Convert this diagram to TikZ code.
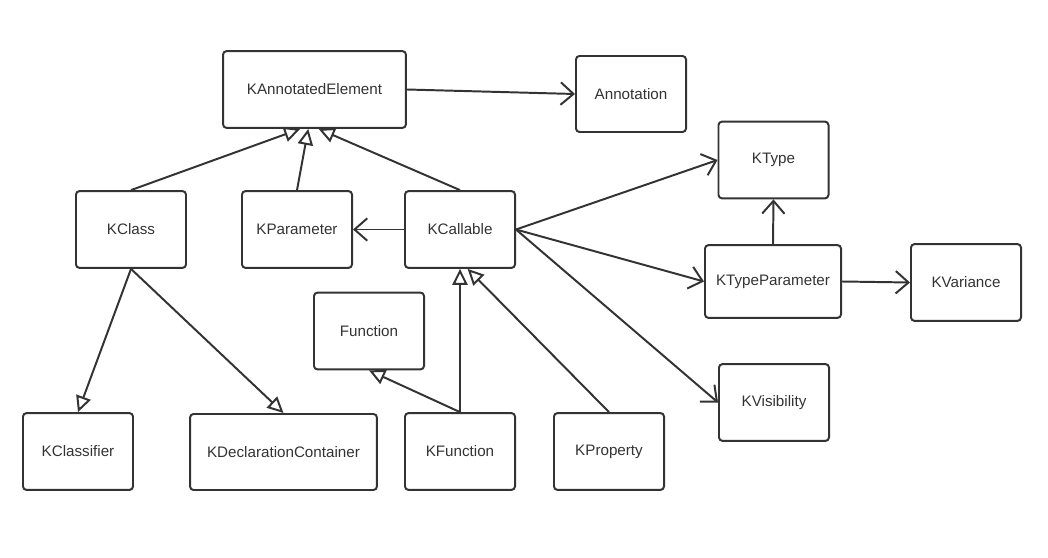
\documentclass[tikz,border=0pt]{standalone}
\usepackage{fontspec}
\setmainfont{Liberation Sans}
\usepackage{tikz}
\usetikzlibrary{arrows.meta}

\definecolor{ink}{HTML}{333333}

\tikzset{
  cls/.style={draw=ink, line width=1.4pt, rounded corners=2.5pt, text=ink,
    font=\fontsize{10.8}{13}\selectfont, minimum width=2.75cm, minimum height=1.92cm},
  assoc/.style={draw=ink, line width=1.4pt, -{Straight Barb[length=3.2mm, width=5.6mm, line width=1.4pt]}},
  inherit/.style={draw=ink, line width=1.4pt, -{Triangle[open, length=4mm, width=3.8mm, line width=1.4pt, fill=white]}}
}

\begin{document}
\begin{tikzpicture}[x=0.025cm, y=-0.025cm]
    \useasboundingbox (0,0) rectangle (1048,558);

    % Classes
    \node[cls, minimum width=4.57cm] (ae) at (314.5,89.5) {KAnnotatedElement};
    \node[cls, minimum height=1.9cm] (an) at (631,94) {Annotation};
    \node[cls] (kt) at (773.5,160) {KType};
    \node[cls] (kcl) at (131,229.5) {KClass};
    \node[cls] (kpa) at (297,229.5) {KParameter};
    \node[cls] (kc) at (460,229.5) {KCallable};
    \node[cls, minimum width=3.4cm, minimum height=1.82cm] (ktp) at (773,281.5) {KTypeParameter};
    \node[cls] (kva) at (966,282.5) {KVariance};
    \node[cls] (fn) at (369,331) {Function};
    \node[cls] (kvi) at (774,402.5) {KVisibility};
    \node[cls] (kcf) at (78,451.5) {KClassifier};
    \node[cls, minimum width=4.67cm, minimum height=1.9cm] (kdc) at (283.5,452) {KDeclarationContainer};
    \node[cls] (kf) at (460,451.5) {KFunction};
    \node[cls] (kp) at (609,451.5) {KProperty};

    % Inheritance
    \draw[inherit] (kcl.north) -- (ae.-110.6);
    \draw[inherit] (kpa.north) -- (ae.-99.6);
    \draw[inherit] (kc.north) -- (ae.-84.8);
    \draw[inherit] (kcl.south) -- (kcf.north);
    \draw[inherit] (kcl.south) -- (kdc.north);
    \draw[inherit] (kf.north) -- (kc.south);
    \draw[inherit] (kf.north) -- (fn.south);
    \draw[inherit] (kp.north) -- (kc.-79.7);

    % Associations
    \draw[assoc] (ae.east) -- (an.west);
    \draw[assoc] (kc.west) -- (kpa.east);
    \draw[assoc] (kc.east) -- (kt.west);
    \draw[assoc] (kc.east) -- (ktp.west);
    \draw[assoc] (kc.east) -- (kvi.west);
    \draw[assoc] (ktp.north) -- (kt.south);
    \draw[assoc] (ktp.east) -- (kva.west);
\end{tikzpicture}
\end{document}
